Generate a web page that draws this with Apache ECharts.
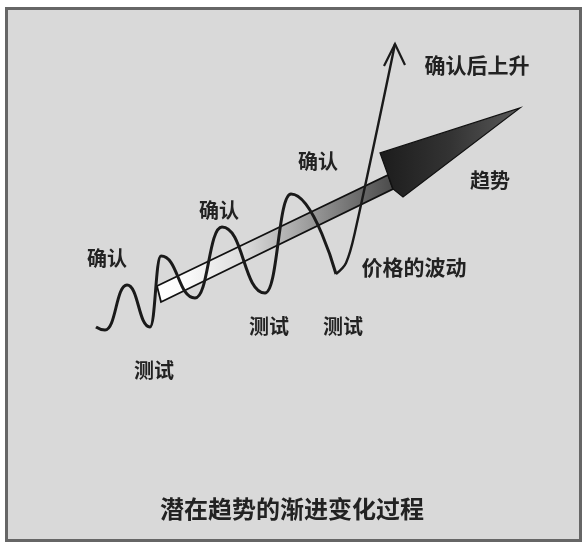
<!DOCTYPE html>
<html>
<head>
<meta charset="utf-8">
<script src="https://cdn.jsdelivr.net/npm/echarts@6.0.0/dist/echarts.min.js"></script>
<style>
  body { margin: 0; padding: 0; background: #fff; }
  #chart { width: 584px; height: 544px; }
</style>
</head>
<body>
<div id="chart"></div>
<script>
// 坐标直接按图片像素读取（y 向下）
// 价格的波动：只取波峰、波谷
const waveX = [96, 105, 127, 150, 161, 195, 222, 265, 291, 336];
const waveY = [327, 330, 285, 327, 256, 298, 227, 293, 194, 274];

// 确认后上升
const riseX = [336, 346, 355, 395];
const riseY = [274, 263, 232, 44];
const riseHeadX = [384, 395, 405];
const riseHeadY = [66, 44, 65];

// 趋势箭头：箭杆和箭头
const shaftX = [157, 388, 393, 161];
const shaftY = [286, 175, 189, 302];
const headX = [388, 380, 520, 403, 393];
const headY = [175, 153, 108, 197, 189];

// 文字
const labelNames = ['确认', '测试', '确认', '测试', '确认', '测试', '价格的波动', '确认后上升', '趋势'];
const labelX = [107, 154, 219, 269, 318, 343, 414, 477, 490];
const labelY = [258, 370, 210, 326, 161, 326, 267, 65, 180];

const titleText = '潜在趋势的渐进变化过程';

const FONT = '"Noto Sans CJK SC", "Noto Sans", sans-serif';

function zip(xs, ys) {
  return xs.map((x, i) => [x, ys[i]]);
}

function shapeSeries(xs, ys, type, style, z) {
  return {
    type: 'custom',
    coordinateSystem: 'cartesian2d',
    silent: true,
    z: z,
    data: [[xs[0], ys[0]]],
    renderItem: (params, api) => ({
      type: type,
      shape: { points: xs.map((x, i) => api.coord([x, ys[i]])) },
      style: style
    })
  };
}

const shaftFill = new echarts.graphic.LinearGradient(0, 0, 1, 0, [
  { offset: 0, color: '#ffffff' },
  { offset: 0.12, color: '#fbfbfb' },
  { offset: 0.37, color: '#dcdcdc' },
  { offset: 0.58, color: '#ababab' },
  { offset: 0.8, color: '#777777' },
  { offset: 1, color: '#4a4a4a' }
]);
const headFill = new echarts.graphic.LinearGradient(0, 0, 1, 0, [
  { offset: 0, color: '#1c1c1c' },
  { offset: 0.5, color: '#333333' },
  { offset: 1, color: '#5a5a5a' }
]);

const chart = echarts.init(document.getElementById('chart'));
chart.setOption({
  backgroundColor: '#ffffff',
  animation: false,
  title: {
    text: titleText,
    left: 'center',
    top: 492,
    textStyle: { fontSize: 24, fontWeight: 'bold', fontFamily: FONT, color: '#222' }
  },
  graphic: [{
    type: 'rect',
    z: -10,
    silent: true,
    shape: { x: 6.5, y: 8.5, width: 574, height: 532 },
    style: { fill: '#d9d9d9', stroke: '#666', lineWidth: 3 }
  }],
  grid: { left: 0, right: 0, top: 0, bottom: 0 },
  xAxis: { type: 'value', min: 0, max: 584, show: false },
  yAxis: { type: 'value', min: 0, max: 544, inverse: true, show: false },
  series: [
    shapeSeries(shaftX, shaftY, 'polygon', { fill: shaftFill, stroke: '#111', lineWidth: 1.8 }, 2),
    shapeSeries(headX, headY, 'polygon', { fill: headFill, stroke: '#111', lineWidth: 1.2 }, 2),
    {
      type: 'line',
      data: zip(waveX, waveY),
      smooth: 0.5,
      smoothMonotone: 'x',
      showSymbol: false,
      silent: true,
      z: 5,
      lineStyle: { color: '#1a1a1a', width: 3 }
    },
    {
      type: 'line',
      data: zip(riseX, riseY),
      smooth: 0.35,
      showSymbol: false,
      silent: true,
      z: 5,
      lineStyle: { color: '#1a1a1a', width: 2.4 }
    },
    shapeSeries(riseHeadX, riseHeadY, 'polyline', { fill: null, stroke: '#1a1a1a', lineWidth: 2.2 }, 5),
    {
      type: 'custom',
      coordinateSystem: 'cartesian2d',
      silent: true,
      z: 6,
      data: zip(labelX, labelY),
      renderItem: (params, api) => {
        const p = api.coord([api.value(0), api.value(1)]);
        const name = labelNames[params.dataIndex];
        return {
          type: 'text',
          x: p[0],
          y: p[1],
          style: {
            text: name,
            fill: '#222',
            fontSize: name.length > 2 ? 21 : 20,
            fontWeight: 'bold',
            fontFamily: FONT,
            align: 'center',
            verticalAlign: 'middle'
          }
        };
      }
    }
  ]
});
</script>
</body>
</html>
